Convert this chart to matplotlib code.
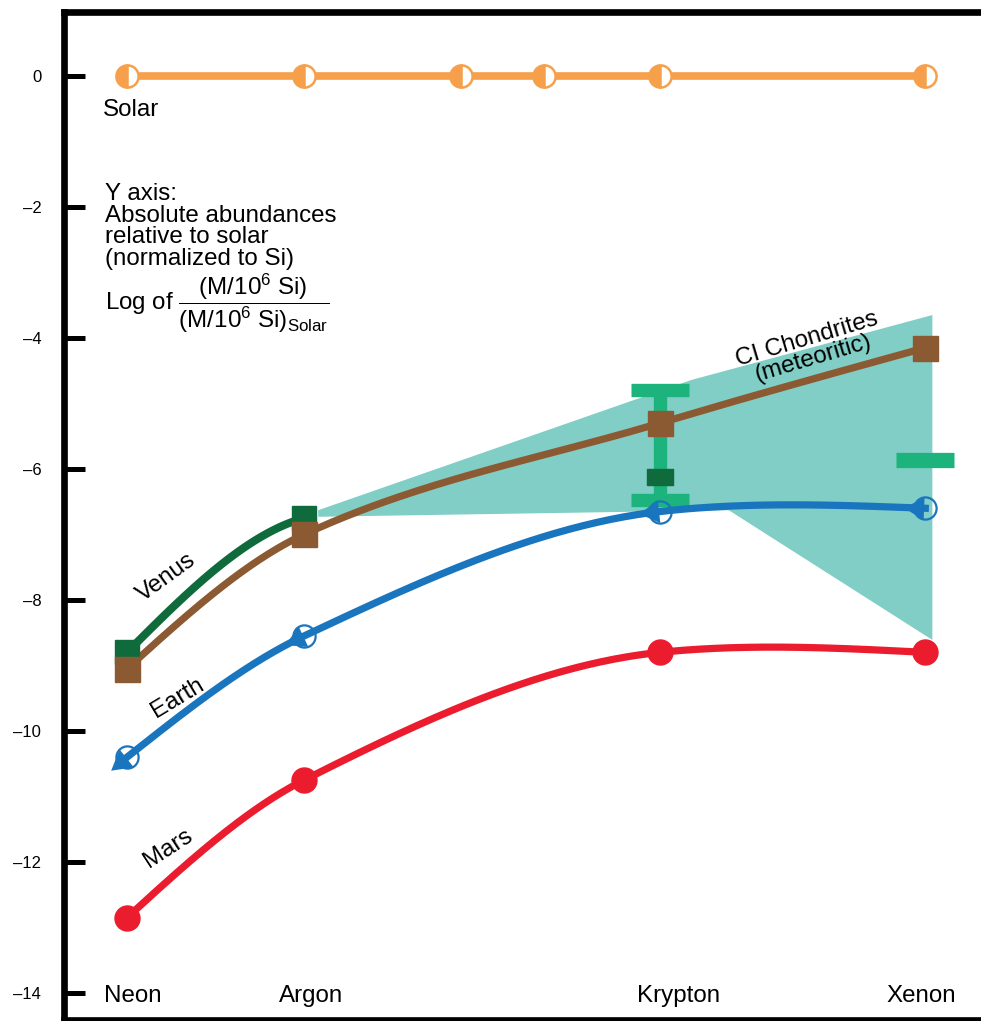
import numpy as np
import matplotlib
matplotlib.use("Agg")
import matplotlib.pyplot as plt
from matplotlib.transforms import offset_copy

plt.rcParams['font.family'] = ['Liberation Sans', 'DejaVu Sans']
plt.rcParams['mathtext.fontset'] = 'custom'
plt.rcParams['mathtext.rm'] = 'Liberation Sans'
plt.rcParams['mathtext.it'] = 'Liberation Sans:italic'
plt.rcParams['mathtext.bf'] = 'Liberation Sans:bold'

# ---------------- data ----------------
elements = ["Neon", "Argon", "Krypton", "Xenon"]
element_x = [0.0, 1.0, 3.01, 4.51]          # category positions along the axis

solar_x = [0.0, 1.0, 1.887, 2.356, 3.01, 4.51]
solar_y = [0, 0, 0, 0, 0, 0]

mars_y = [-12.85, -10.75, -8.8, -8.8]
earth_y = [-10.4, -8.55, -6.65, -6.6]
ci_y = [-9.05, -7.0, -5.3, -4.15]
venus_y = [-8.8, -6.75, -6.12]              # Neon, Argon, Krypton
venus_kr_err_hi = -4.8
venus_kr_err_lo = -6.47
venus_xe_limit = -5.86

band_top_x = [1.08, 3.19, 4.55]
band_top_y = [-6.63, -4.64, -3.65]
band_bot_x = [1.08, 3.40, 4.55]
band_bot_y = [-6.73, -6.63, -8.61]

yticks = [0, -2, -4, -6, -8, -10, -12, -14]

# ---------------- colours ----------------
c_solar = "#f7a04c"
c_mars = "#ec1c2f"
c_earth = "#1a75bf"
c_ci = "#8c5a32"
c_venus = "#0f6b3c"
c_venus_err = "#1cb47c"
c_band = "#80cec6"

W, H = 981, 1021
fig = plt.figure(figsize=(W / 100, H / 100), dpi=100)
left_px, top_px, bottom_px = 63.5, 12.5, 1019.5
ax_w = 1 - left_px / W + 0.01
ax = fig.add_axes([left_px / W, 1 - bottom_px / H, ax_w, (bottom_px - top_px) / H])

xpx = 177.0   # px per x unit
ypx = 65.5    # px per y unit
ax.set_xlim(-0.3588, -0.3588 + (W * ax_w) / xpx)
ax.set_ylim(-14.405, 0.969)


def smooth(xs, ys, n=80):
    """Smooth cubic Hermite curve through the points."""
    xs = np.asarray(xs, float)
    ys = np.asarray(ys, float)
    m = len(xs)
    h = np.diff(xs)
    sec = np.diff(ys) / h
    d = np.empty(m)
    for k in range(1, m - 1):
        cr = (ys[k + 1] - ys[k - 1]) / (xs[k + 1] - xs[k - 1])
        if sec[k - 1] * sec[k] <= 0:
            pc = 0.0
        else:
            w1 = 2 * h[k] + h[k - 1]
            w2 = h[k] + 2 * h[k - 1]
            pc = (w1 + w2) / (w1 / sec[k - 1] + w2 / sec[k])
        d[k] = 0.5 * (cr + pc)
    d[0] = 1.5 * sec[0] - 0.5 * d[1]
    d[-1] = 1.5 * sec[-1] - 0.5 * d[-2]
    outx, outy = [], []
    for k in range(m - 1):
        t = np.linspace(0, 1, n)
        h00 = 2 * t**3 - 3 * t**2 + 1
        h10 = t**3 - 2 * t**2 + t
        h01 = -2 * t**3 + 3 * t**2
        h11 = t**3 - t**2
        outx.append(xs[k] + t * h[k])
        outy.append(h00 * ys[k] + h10 * h[k] * d[k] + h01 * ys[k + 1] + h11 * h[k] * d[k + 1])
    return np.concatenate(outx), np.concatenate(outy), d


# band
poly_x = list(band_top_x) + list(band_bot_x[::-1])
poly_y = list(band_top_y) + list(band_bot_y[::-1])
ax.fill(poly_x, poly_y, color=c_band, lw=0, zorder=1)

lw = 5.2
# Solar
ax.plot(solar_x, solar_y, color=c_solar, lw=5.5, zorder=3,
        marker='o', ms=16, fillstyle='left', mfc=c_solar, mfcalt='white',
        mec=c_solar, mew=1.8)

# Mars
xx, yy, _ = smooth(element_x, mars_y)
ax.plot(xx, yy, color=c_mars, lw=lw, zorder=3)
ax.plot(element_x, mars_y, 'o', color=c_mars, ms=18, zorder=4)

# CI chondrites
xx, yy, _ = smooth(element_x, ci_y)
ax.plot(xx, yy, color=c_ci, lw=lw, zorder=3)

# Venus (curve drawn Neon -> Argon only)
xx, yy, _ = smooth(element_x[:3], venus_y)
sel = xx <= element_x[1]
ax.plot(xx[sel], yy[sel], color=c_venus, lw=5.8, zorder=3)
ax.plot(element_x[:2], venus_y[:2], 's', color=c_venus, ms=17, zorder=5)
half = (venus_kr_err_hi - venus_kr_err_lo) / 2
ax.errorbar([element_x[2]], [(venus_kr_err_hi + venus_kr_err_lo) / 2],
            yerr=[[half], [half]],
            fmt='none', ecolor=c_venus_err, elinewidth=9.6, capsize=21, capthick=9.6, zorder=4)
rect_marker = [(-1.6, -1), (1.6, -1), (1.6, 1), (-1.6, 1), (-1.6, -1)]
ax.plot([element_x[2]], [venus_y[2]], linestyle='none', color=c_venus, zorder=6,
        marker=rect_marker, markersize=19)
ax.plot([element_x[3]], [venus_xe_limit], '_', color=c_venus_err, ms=42, mew=11, zorder=4)

# CI squares on top
ax.plot(element_x, ci_y, 's', color=c_ci, ms=18, zorder=6)

# Earth
xx, yy, de = smooth(element_x, earth_y)
ax.plot(xx, yy, color=c_earth, lw=lw, zorder=5)
ax.plot(element_x, earth_y, 'o', ms=16, mfc='none', mec=c_earth, mew=1.6, zorder=6)
for xi, yi, di in zip(element_x, earth_y, de):
    slope = di * ypx / xpx
    ang = np.degrees(np.arctan2(-slope, -1.0))
    tr = offset_copy(ax.transData, fig=fig, x=8 * np.cos(np.radians(ang)),
                     y=8 * np.sin(np.radians(ang)), units='dots')
    ax.plot([xi], [yi], marker=(3, 0, ang - 90), ms=19, color=c_earth, mew=0,
            transform=tr, zorder=6)

# ---------------- spines and ticks ----------------
ax.spines['right'].set_visible(False)
for s in ['left', 'top', 'bottom']:
    ax.spines[s].set_linewidth(4.8)
    ax.spines[s].set_color('black')
ax.set_xticks([])
ax.set_yticks(yticks)
ax.set_yticklabels(["0" if v == 0 else "\u2013" + str(abs(v)) for v in yticks])
ax.tick_params(axis='y', direction='in', length=15, width=3.6, pad=16,
               labelsize=12, colors='black')

# ---------------- texts ----------------
fs = 17.4
ax.text(-0.136, -0.52, "Solar", fontsize=fs, ha='left', va='center')
ax.text(-0.124, -1.64, "Y axis:\nAbsolute abundances\nrelative to solar\n(normalized to Si)",
        fontsize=fs, ha='left', va='top', linespacing=0.97)
ax.text(-0.124, -3.47,
        r"Log of $\dfrac{(\mathrm{M/10^6\ Si)}}{(\mathrm{M/10^6\ Si)}_{\mathrm{Solar}}}$",
        fontsize=fs, ha='left', va='center')

label_dx = [0.034, 0.04, 0.107, -0.022]
for name, xi, d in zip(elements, element_x, label_dx):
    ax.text(xi + d, -14.05, name, fontsize=fs, ha='center', va='center')

ax.text((166 - 127) / xpx, (76 - 578) / ypx, "Venus", fontsize=fs, rotation=36,
        ha='center', va='center', rotation_mode='anchor')
ax.text((178 - 127) / xpx, (76 - 698) / ypx, "Earth", fontsize=fs, rotation=31,
        ha='center', va='center', rotation_mode='anchor')
ax.text((168 - 127) / xpx, (76 - 848) / ypx, "Mars", fontsize=fs, rotation=33,
        ha='center', va='center', rotation_mode='anchor')
ax.text((810 - 127) / xpx, (76 - 349) / ypx, "CI Chondrites\n(meteoritic)", fontsize=fs,
        rotation=16.5, ha='center', va='center', rotation_mode='anchor',
        linespacing=0.85, multialignment='center')

fig.savefig("out.png", dpi=100)
